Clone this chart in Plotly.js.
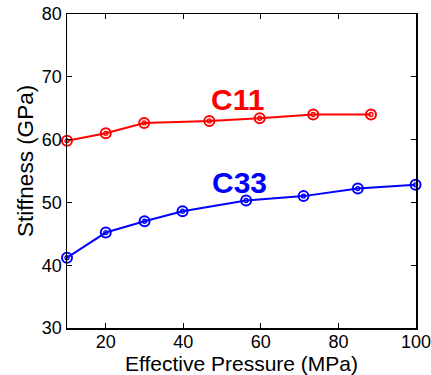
<!DOCTYPE html>
<html>
<head>
<meta charset="utf-8">
<script src="https://cdn.plot.ly/plotly-3.0.1.min.js"></script>
<style>html,body{margin:0;padding:0;background:#fff;}#chart{width:431px;height:375px;}</style>
</head>
<body>
<div id="chart"></div>
<script>
const c11Pressure = [10, 20, 29.9, 46.7, 59.7, 73.5, 88.4];
const c11Stiffness = [59.8, 61.0, 62.65, 62.97, 63.4, 64.0, 64.0];
const c33Pressure = [10, 20, 30, 39.8, 56.2, 71.0, 85.0, 99.9];
const c33Stiffness = [41.2, 45.2, 47.0, 48.6, 50.3, 51.0, 52.2, 52.8];
const xTicks = [20, 40, 60, 80, 100];
const yTicks = [30, 40, 50, 60, 70, 80];
const labels = ["C11", "C33"];
const labelX = [54.1, 54.6];
const labelY = [66.4, 53.2];
const xTitle = "Effective Pressure (MPa)";
const yTitle = "Stiffness (GPa)";

const font = "Liberation Sans, Arial, Helvetica, sans-serif";
function series(x, y, color) {
  return [
    {x: x, y: y, type: "scatter", mode: "lines+markers",
     line: {color: color, width: 2},
     marker: {symbol: "circle-open", size: 10, color: color, line: {width: 2, color: color}},
     cliponaxis: false, hoverinfo: "skip"},
    {x: x, y: y, type: "scatter", mode: "markers",
     marker: {symbol: "circle-open", size: 4, color: color, line: {width: 1.3, color: color}},
     cliponaxis: false, hoverinfo: "skip"}
  ];
}
const data = [].concat(series(c11Pressure, c11Stiffness, "#ff0000"), series(c33Pressure, c33Stiffness, "#0000ff"));
const colors = ["#ff0000", "#0000ff"];
const axisCommon = {
  tickmode: "array", ticks: "inside", ticklen: 5, tickwidth: 1,
  showline: true, linecolor: "#000", linewidth: 1.5, mirror: "ticks", showgrid: false, zeroline: false,
  tickfont: {size: 18, family: font}, tickcolor: "#000", ticklabeloverflow: "allow"
};
const annotations = labels.map((t, i) => ({
  x: labelX[i], y: labelY[i], xref: "x", yref: "y", text: "<b>" + t + "</b>",
  showarrow: false, font: {size: 30, family: font, color: colors[i]}
}));
annotations.push({x: 0.5, y: 0, xref: "paper", yref: "paper", text: xTitle, showarrow: false,
  xanchor: "center", yanchor: "middle", yshift: -35.5, font: {size: 21, family: font, color: "#000"}});
annotations.push({x: 0, y: 0.5, xref: "paper", yref: "paper", text: yTitle, showarrow: false, textangle: -90,
  xanchor: "center", yanchor: "middle", xshift: -42, yshift: 10, font: {size: 22.5, family: font, color: "#000"}});
const layout = {
  width: 431, height: 375,
  margin: {l: 67, r: 15, t: 14, b: 47},
  paper_bgcolor: "#fff", plot_bgcolor: "#fff",
  showlegend: false,
  font: {family: font, color: "#000"},
  xaxis: Object.assign({}, axisCommon, {range: [10, 100.01], tickvals: xTicks, ticktext: xTicks.map(String), ticklabelstandoff: -3}),
  yaxis: Object.assign({}, axisCommon, {range: [30, 80], tickvals: yTicks, ticktext: yTicks.map(String)}),
  annotations: annotations
};
Plotly.newPlot("chart", data, layout, {staticPlot: true, displayModeBar: false});
</script>
</body>
</html>
